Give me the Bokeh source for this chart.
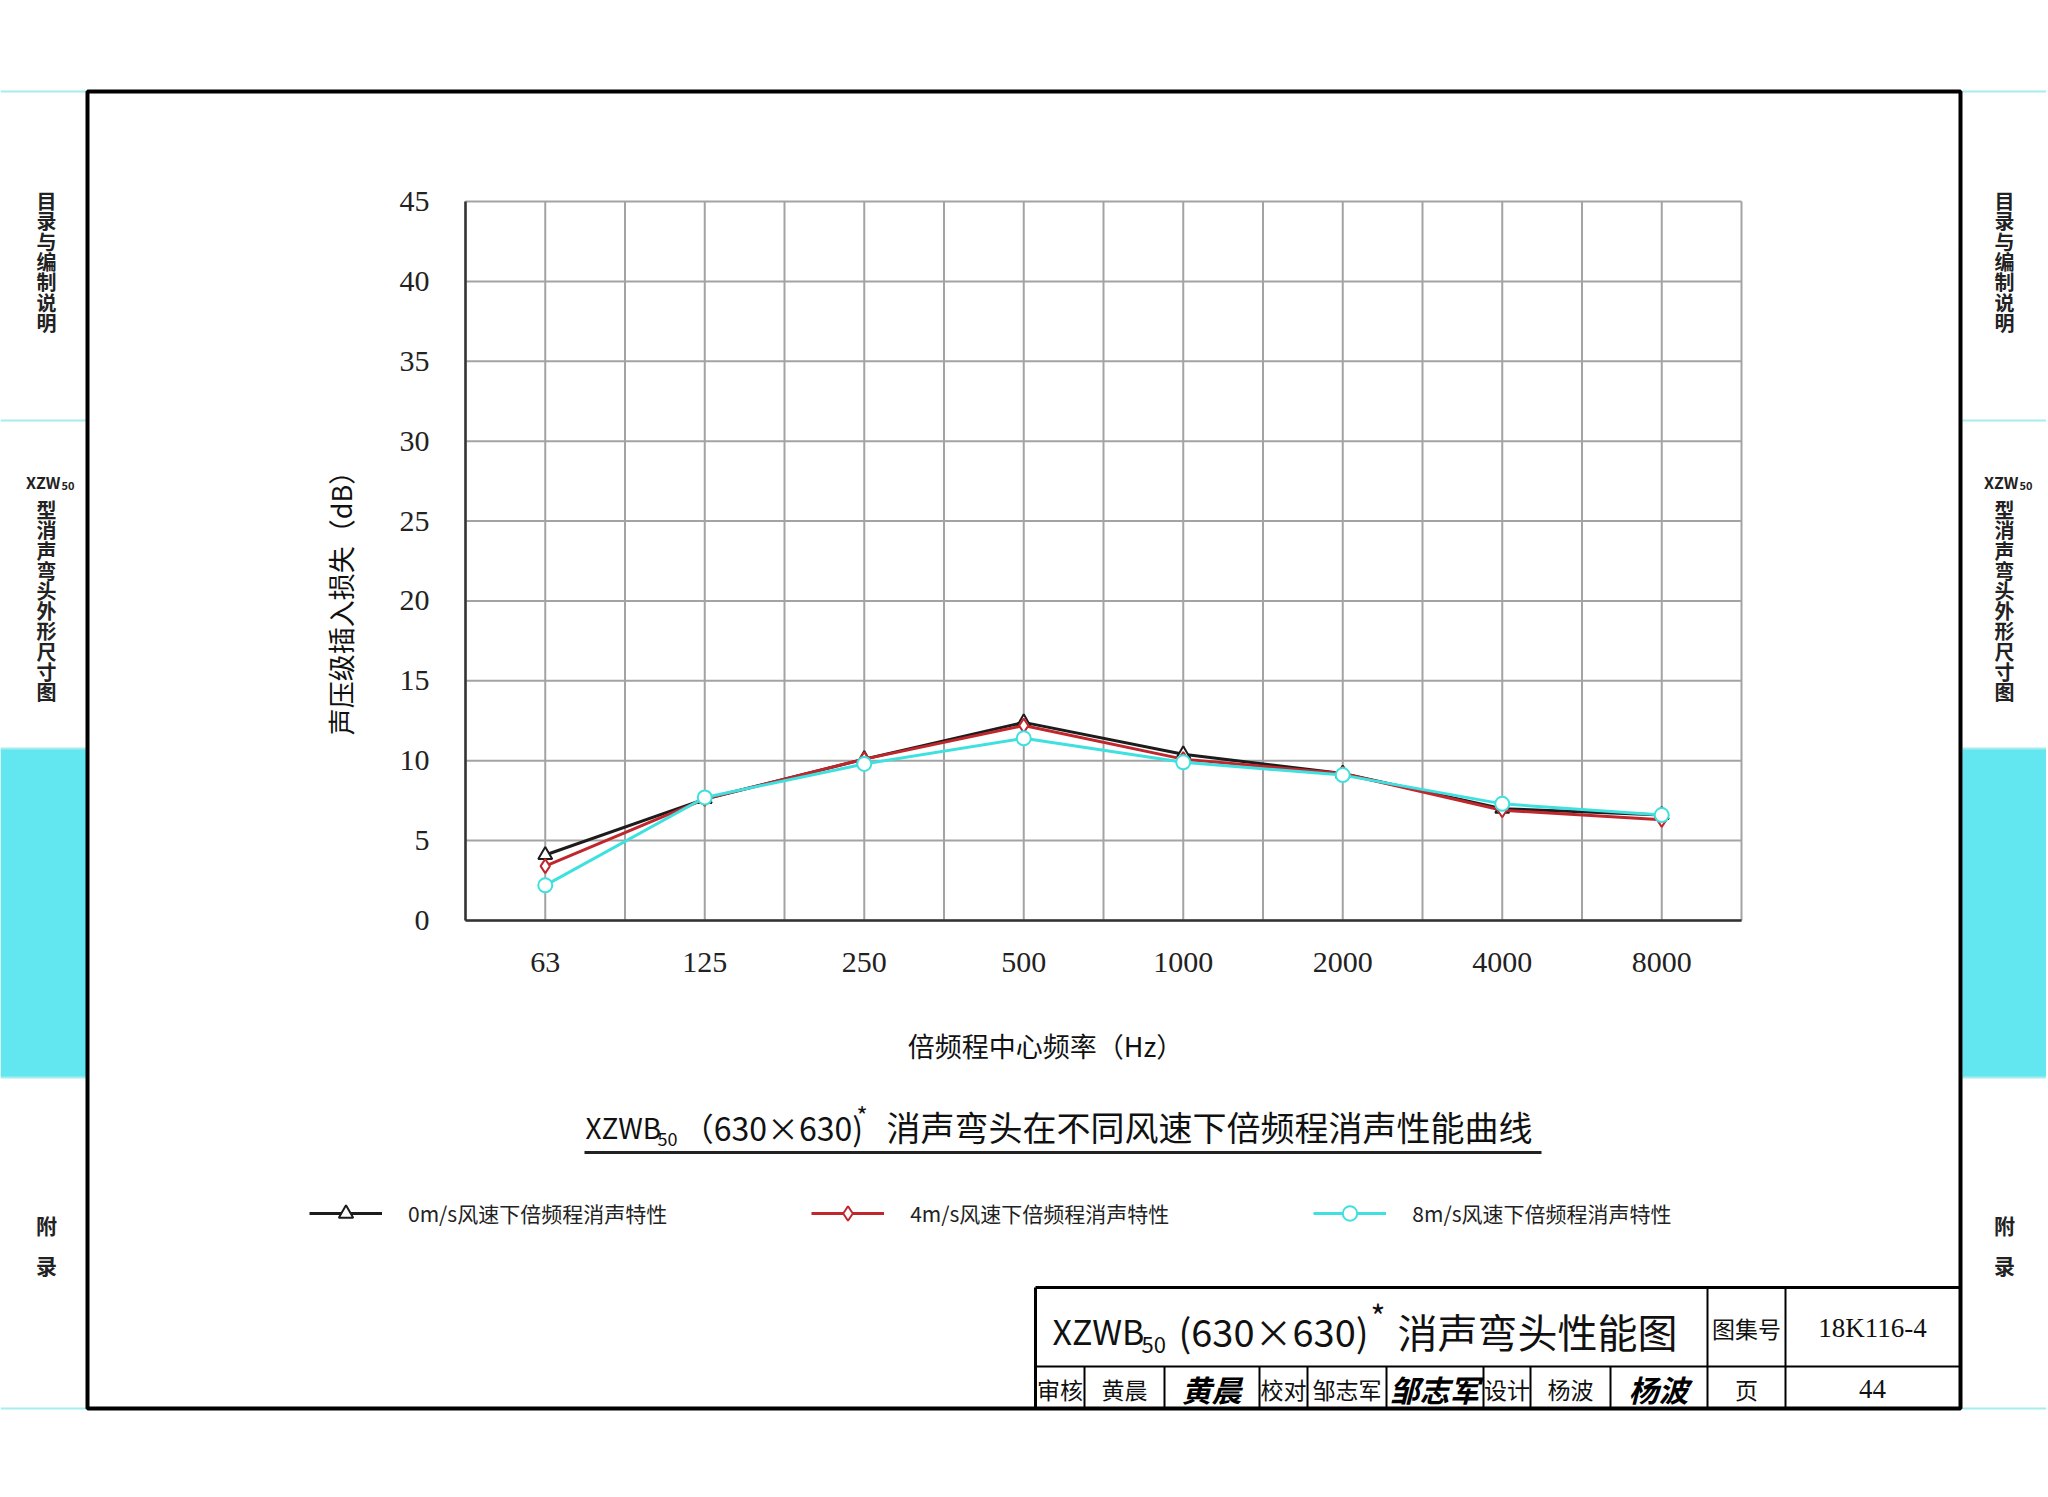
import math
from bokeh.plotting import figure
from bokeh.models import (BoxAnnotation, Label, Legend, LegendItem, FixedTicker, Range1d,
                          LinearAxis)
from bokeh.embed import file_html
from bokeh.resources import INLINE

# ---------------- data ----------------
freqs = ["63", "125", "250", "500", "1000", "2000", "4000", "8000"]
loss_0ms = [4.1, 7.6, 10.1, 12.4, 10.4, 9.2, 7.0, 6.6]
loss_4ms = [3.4, 7.6, 10.1, 12.2, 10.1, 9.2, 6.9, 6.3]
loss_8ms = [2.2, 7.7, 9.8, 11.4, 9.9, 9.1, 7.3, 6.6]
y_ticks = [0, 5, 10, 15, 20, 25, 30, 35, 40, 45]
series_names = ["0m/s风速下倍频程消声特性", "4m/s风速下倍频程消声特性", "8m/s风速下倍频程消声特性"]

CJK = "Noto Sans CJK SC"
SERIF = "Liberation Serif"

# ---------------- geometry (page px) ----------------
W, H = 2046, 1495
FL, FR, FT, FB = 465, 1741, 201, 920     # plot-area edges on the page
YMAX = 45
n = len(freqs)

def Y(py):
    return H - py

kx = (FR - FL) / n
ky = (FB - FT) / YMAX

p = figure(width=W, height=H, x_range=Range1d(0, W), y_range=Range1d(0, H),
           x_axis_type=None, y_axis_type=None,
           output_backend="svg", toolbar_location=None, title=None, min_border=0)
p.background_fill_color = "white"
p.border_fill_color = "white"
p.outline_line_color = None
p.extra_x_ranges = {"cx": Range1d(-FL / kx, n + (W - FR) / kx)}
p.extra_y_ranges = {"cy": Range1d(-(H - FB) / ky, YMAX + FT / ky)}

xpos = [i + 0.5 for i in range(n)]
grid_x = [i * 0.5 for i in range(2 * n + 1)]

# grid
GRID = "#a3a3a3"
p.segment(x0=grid_x, y0=[0] * len(grid_x), x1=grid_x, y1=[YMAX] * len(grid_x),
          x_range_name="cx", y_range_name="cy", line_color=GRID, line_width=2, level="underlay")
p.segment(x0=[0] * len(y_ticks), y0=y_ticks, x1=[n] * len(y_ticks), y1=y_ticks,
          x_range_name="cx", y_range_name="cy", line_color=GRID, line_width=2, level="underlay")

# axes
xaxis = LinearAxis(x_range_name="cx", y_range_name="cy", fixed_location=0, bounds=(0, n),
                   ticker=FixedTicker(ticks=xpos),
                   major_label_overrides={x: f for x, f in zip(xpos, freqs)})
yaxis = LinearAxis(x_range_name="cx", y_range_name="cy", fixed_location=0, bounds=(0, YMAX),
                   ticker=FixedTicker(ticks=y_ticks))
for ax in (xaxis, yaxis):
    ax.axis_line_color = "#333333"
    ax.axis_line_width = 2.5
    ax.major_tick_line_color = None
    ax.minor_tick_line_color = None
    ax.major_label_text_font = SERIF
    ax.major_label_text_font_size = "30px"
    ax.major_label_text_color = "#222222"
xaxis.major_label_standoff = 26
yaxis.major_label_standoff = 30
p.add_layout(xaxis, "below")
p.add_layout(yaxis, "left")

# series
styles = [("#1c1c1c", "triangle"), ("#c0272d", "diamond"), ("#3fe0e0", "circle")]
items = []
for vals, (col, mk), name in zip([loss_0ms, loss_4ms, loss_8ms], styles, series_names):
    r1 = p.line(xpos, vals, line_color=col, line_width=3, x_range_name="cx", y_range_name="cy")
    r2 = p.scatter(xpos, vals, marker=mk, size=14, line_color=col, line_width=2,
                   fill_color="white", x_range_name="cx", y_range_name="cy")
    items.append(LegendItem(label=name, renderers=[r1, r2]))

legend = Legend(items=items, orientation="horizontal", location=(309, Y(1231)),
                glyph_width=73, glyph_height=36, label_height=36, label_standoff=26,
                spacing=144, padding=0, margin=0, border_line_color=None,
                background_fill_alpha=0, label_text_font=CJK, label_text_font_size="21px",
                label_text_color="#222222")
p.add_layout(legend)

# ---------------- helpers for page decorations ----------------
def box(l, t, r, b, fill=None, line=None, lw=1):
    p.add_layout(BoxAnnotation(left=l, right=r, top=Y(t), bottom=Y(b),
                               fill_color=fill, fill_alpha=1.0 if fill else 0.0,
                               line_color=line, line_width=lw, line_alpha=1.0,
                               level="overlay"))

def hline(x0, x1, y, w, color="black"):
    box(x0, y - w / 2, x1, y + w / 2, fill=color)

def vline(x, y0, y1, w, color="black"):
    box(x - w / 2, y0, x + w / 2, y1, fill=color)

def lab(x, y, text, size, font=CJK, align="center", baseline="middle", style="normal",
        color="#111111", angle=0):
    p.add_layout(Label(x=x, y=Y(y), text=text,
                       text_font=font, text_font_size=f"{size}px", text_align=align,
                       text_baseline=baseline, text_font_style=style, text_color=color,
                       angle=angle))

def vtext(cx, y0, y1, text, size, **kw):
    pitch = (y1 - y0) / len(text)
    for i, ch in enumerate(text):
        lab(cx, y0 + pitch * (i + 0.5), ch, size, **kw)

# axis titles
lab(340, 596, "声压级插入损失（dB）", 27, angle=math.pi / 2)
lab(1045, 1045, "倍频程中心频率（Hz）", 27)

# chart title
lab(585, 1126, "XZWB", 28, align="left")
lab(657, 1138, "50", 18, align="left")
lab(772, 1126, "（630×630)", 32)
lab(856, 1114, "*", 24, align="left")
lab(1532, 1126, "消声弯头在不同风速下倍频程消声性能曲线", 34, align="right")
hline(584, 1541, 1152, 3, "#222222")

# ---------------- side tabs ----------------
TAB_CYAN = "#62e6ef"
TAB_LINE = "#a6eeee"
for (x0, x1) in [(0, 86), (1962, W)]:
    box(x0, 748, x1, 1077, fill=TAB_CYAN)
    for yy in [91, 420, 748, 1077, 1408]:
        hline(x0, x1, yy, 2, TAB_LINE)

TABC = "#222222"
for cx in [46, 2004]:
    vtext(cx, 190, 332, "目录与编制说明", 20, style="bold", color=TABC)
    lab(cx + 14, 481, "XZW", 16, align="right", style="bold", color=TABC)
    lab(cx + 15, 485, "50", 11, align="left", style="bold", color=TABC)
    vtext(cx, 499, 701, "型消声弯头外形尺寸图", 20, style="bold", color=TABC)
    lab(cx + 19, 787, "XZWB", 16, align="right", style="bold", color=TABC)
    lab(cx + 20, 791, "50", 11, align="left", style="bold", color=TABC)
    vtext(cx, 801, 1045, "型消声弯头选型参数与曲线", 20, style="bold", color=TABC)
    lab(cx, 1224, "附", 21, style="bold", color=TABC)
    lab(cx, 1264, "录", 21, style="bold", color=TABC)

# ---------------- drawing frame ----------------
box(87, 91, 1960, 1408, fill=None, line="black", lw=4)

# ---------------- title block ----------------
hline(1035, 1960, 1287, 3)
vline(1035, 1287, 1408, 3)
hline(1035, 1960, 1366, 2)
for xx in [1707, 1785]:
    vline(xx, 1287, 1408, 2)
for xx in [1084, 1164, 1259, 1307, 1386, 1483, 1530, 1610]:
    vline(xx, 1366, 1408, 2)

lab(1052, 1330, "XZWB", 34, align="left")
lab(1141, 1344, "50", 22, align="left")
lab(1273, 1330, "(630×630)", 38)
lab(1370, 1314, "*", 32, align="left")
lab(1677, 1330, "消声弯头性能图", 40, align="right")
lab(1746, 1327, "图集号", 23)
lab(1872, 1327, "18K116-4", 27, font=SERIF)

row_y = 1388
for cx, t in [(1059.5, "审核"), (1124, "黄晨"), (1283, "校对"), (1346.5, "邹志军"),
              (1506.5, "设计"), (1570, "杨波"), (1746, "页")]:
    lab(cx, row_y, t, 23)
lab(1872, row_y, "44", 27, font=SERIF)
for cx, t in [(1211, "黄晨"), (1434, "邹志军"), (1658, "杨波")]:
    lab(cx, row_y, t, 30, style="bold italic", color="#000000")

open("out.html", "w").write(file_html(p, INLINE))
